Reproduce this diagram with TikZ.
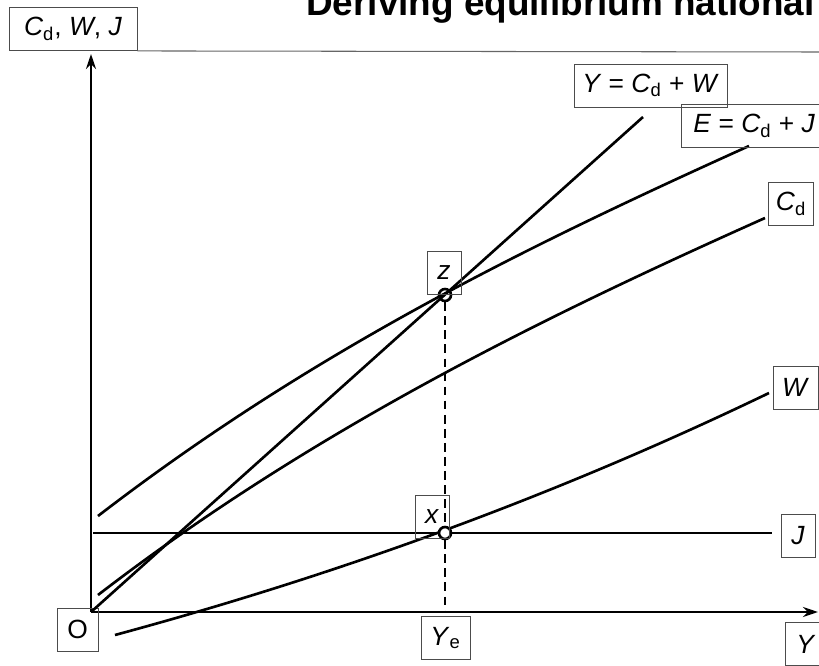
\documentclass[tikz,border=0pt]{standalone}
\usepackage{fontspec}
\setmainfont{Liberation Sans}
\usetikzlibrary{arrows.meta}

\begin{document}
\begin{tikzpicture}[x=0.02cm, y=-0.02cm,
    lbl/.style={draw=black!70, line width=0.5pt, inner sep=0pt, minimum height=0.86cm, font=\fontsize{15}{17}\selectfont},
    axis/.style={line width=1.7pt, -{Stealth[length=3mm,width=2mm]}},
    curve/.style={line width=1.5pt},
    eqdot/.style={circle, draw, line width=1.5pt, inner sep=0pt, minimum size=0.24cm}]
  \useasboundingbox (0,0) rectangle (819,666);
  % title and rule under it
  \node[anchor=base east, inner sep=0pt, font=\fontsize{21}{24}\selectfont\bfseries] (title) at (815,15) {Deriving equilibrium national};
  \node[lbl, minimum width=2.56cm] (axlbl) at (73,29) {\textit{C}\textsubscript{d}, \textit{W}, \textit{J}};
  \coordinate (ruleend) at (819,52);
  \draw[black!60, line width=0.6pt] (axlbl.south east) -- (ruleend);
  % axes
  \coordinate (O) at (91,612);
  \coordinate (ytop) at (91,54);
  \coordinate (xend) at (818,612);
  \draw[axis] (O) -- (ytop);
  \draw[axis] (O) -- (xend);
  \node[lbl, minimum width=0.82cm] (olbl) at (77.5,629.5) {O};
  \node[lbl, minimum width=0.82cm] (ylbl) at (806,644) {\textit{Y}};
  % 45 degree line Y = Cd + W
  \coordinate (Yend) at (643,117);
  \draw[curve] (O) -- (Yend);
  \node[lbl, minimum width=3.06cm] (ylinelbl) at (650.5,85.5) {\textit{Y} = \textit{C}\textsubscript{d} + \textit{W}};
  % aggregate expenditure E = Cd + J
  \coordinate (E0) at (98,516);
  \coordinate (E1) at (749,146);
  \draw[curve] (E0) .. controls (315,349) and (532,244) .. (E1);
  \node[lbl, anchor=west, inner xsep=0.24cm] (elbl) at (681,126) {\textit{E} = \textit{C}\textsubscript{d} + \textit{J}};
  % consumption Cd
  \coordinate (Cd0) at (98,595);
  \coordinate (Cd1) at (765,218);
  \draw[curve] (Cd0) .. controls (315,428) and (548,315) .. (Cd1);
  \node[lbl, minimum width=0.9cm] (cdlbl) at (791,204) {\textit{C}\textsubscript{d}};
  % withdrawals W
  \coordinate (W0) at (115,635);
  \coordinate (W1) at (769,393);
  \draw[curve] (W0) .. controls (333,576) and (551,498) .. (W1);
  \node[lbl, minimum width=0.9cm] (wlbl) at (795.5,387.5) {\textit{W}};
  % injections J
  \coordinate (J0) at (93,533);
  \coordinate (J1) at (772,533);
  \draw[line width=1.7pt] (J0) -- (J1);
  \node[lbl, minimum width=0.68cm] (jlbl) at (798,535.5) {\textit{J}};
  % equilibrium points
  \node[eqdot] (z) at (445,295) {};
  \node[eqdot, fill=white] (x) at (445,533) {};
  \coordinate (ye) at (445,612);
  \draw[line width=1.1pt, dash pattern=on 5pt off 3pt] (z) -- (x) (x) -- (ye);
  \node[lbl, minimum width=0.68cm] (zlbl) at (444,273) {\textit{z}};
  \node[lbl, minimum width=0.68cm] (xlbl) at (432,517) {\textit{x}};
  \node[lbl, minimum width=0.98cm] (yelbl) at (445.5,638) {\textit{Y}\textsubscript{e}};
\end{tikzpicture}
\end{document}
